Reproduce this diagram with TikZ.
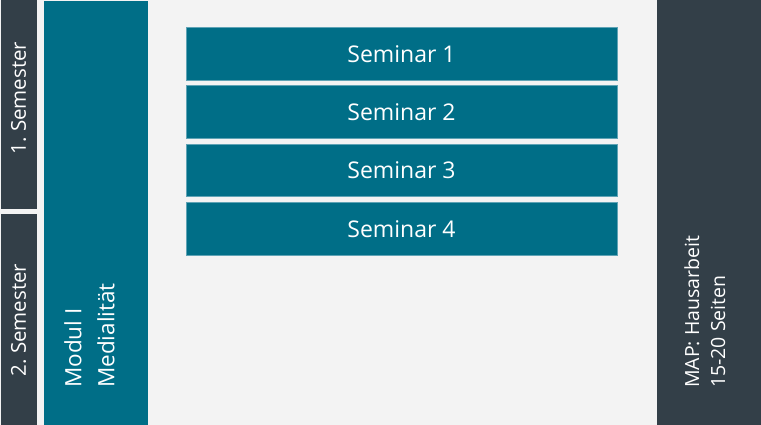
\documentclass[tikz,border=0pt]{standalone}
\usepackage{fontspec}
\setmainfont{Open Sans}
\definecolor{bg}{HTML}{F3F3F3}
\definecolor{teal}{HTML}{006E87}
\definecolor{darkbar}{HTML}{333F48}
\definecolor{edge}{HTML}{5FA3B5}
\begin{document}
\begin{tikzpicture}[x=1pt,y=-1pt,
  box/.style={inner sep=0pt,outer sep=0pt},
  seminar/.style={box,fill=teal,draw=edge,line width=0.5pt,minimum width=431pt,minimum height=52.5pt,text=white,font=\fontsize{23}{26}\selectfont},
  sidetxt/.style={text=white,font=\fontsize{20.5}{25}\selectfont,rotate=90,align=left,inner sep=0pt}]
\fill[bg] (0,0) rectangle (761,425);
\useasboundingbox (0,0) rectangle (761,425);
\fill[darkbar] (1,0) rectangle (36.5,209);
\fill[darkbar] (1,214) rectangle (36.5,425);
\fill[teal] (44,1) rectangle (148,425);
\fill[darkbar] (656.5,0) rectangle (760.5,425);
\node[sidetxt] (s1) at (18.5,98) {1.\ Semester};
\node[sidetxt] (s2) at (18.5,320) {2.\ Semester};
\node[sidetxt,anchor=north west,font=\fontsize{22.5}{33}\selectfont] (mod) at (64,388) {Modul I\\Medialität};
\node[sidetxt,anchor=north west,font=\fontsize{19.5}{26}\selectfont] (map) at (684,388) {MAP: Hausarbeit\\15-20 Seiten};
\node[seminar] (sem1) at (401.5,53.7) {Seminar 1};
\node[seminar] (sem2) at (401.5,112) {Seminar 2};
\node[seminar] (sem3) at (401.5,170.3) {Seminar 3};
\node[seminar] (sem4) at (401.5,228.7) {Seminar 4};
\end{tikzpicture}
\end{document}
